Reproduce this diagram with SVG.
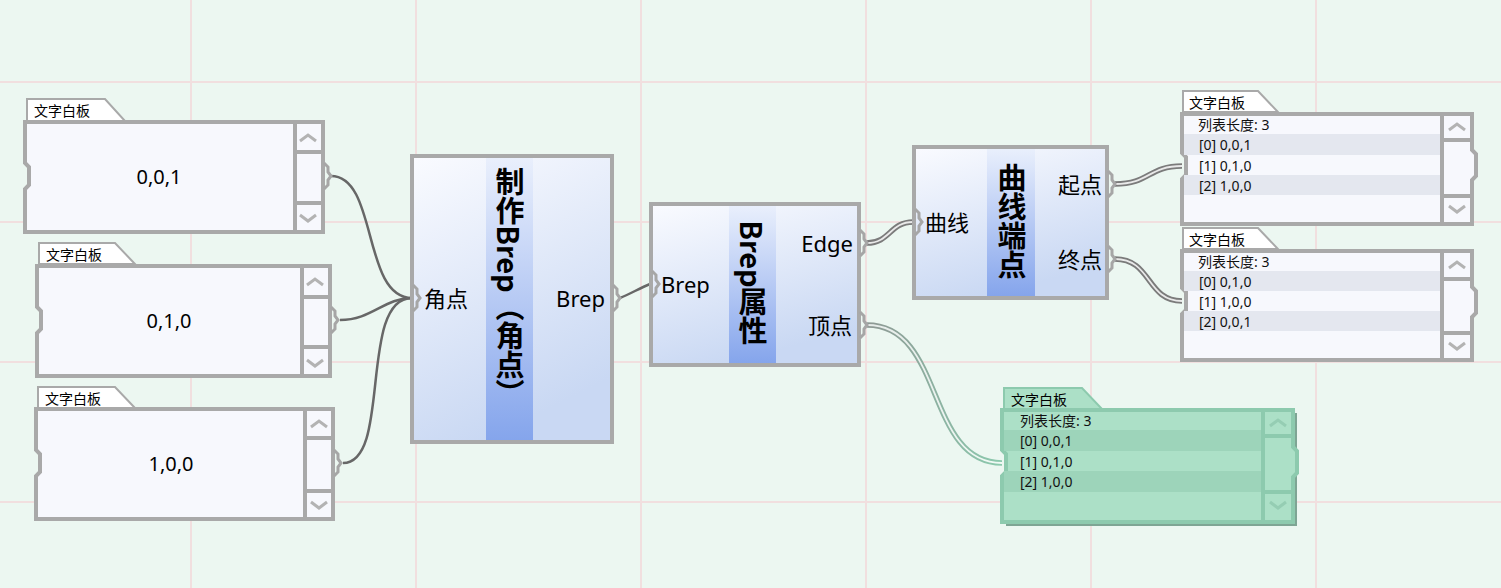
<svg xmlns="http://www.w3.org/2000/svg" xmlns:xlink="http://www.w3.org/1999/xlink" width="1501" height="588" viewBox="0 0 1501 588">
<defs>
  <linearGradient id="nodeG" x1="0" y1="0" x2="0.35" y2="1">
    <stop offset="0" stop-color="#fafbff"/>
    <stop offset="1" stop-color="#c9d8f3"/>
  </linearGradient>
  <linearGradient id="stripG" x1="0" y1="0" x2="0" y2="1">
    <stop offset="0" stop-color="#e9effc"/>
    <stop offset="1" stop-color="#85a5ec"/>
  </linearGradient>
  <linearGradient id="gwOut" gradientUnits="userSpaceOnUse" x1="867" y1="0" x2="1002" y2="0">
    <stop offset="0" stop-color="#8e9894"/>
    <stop offset="1" stop-color="#8ccaae"/>
  </linearGradient>
  <linearGradient id="gwIn" gradientUnits="userSpaceOnUse" x1="867" y1="0" x2="1002" y2="0">
    <stop offset="0" stop-color="#e6ebe9"/>
    <stop offset="1" stop-color="#f0faf5"/>
  </linearGradient>
  <path id="port" d="M0,-13 L4,-9 L4,-4 L7,0 L4,4 L4,9 L0,13"/>
</defs>
<style>
  .grid{stroke:#f1dfdf;stroke-width:2}
  .panel{fill:#f7f8fd;stroke:#a9a9a9;stroke-width:4}
  .tab{fill:#ffffff;stroke:#a9a9a9;stroke-width:2}
  .sc{fill:none;stroke:#a9a9a9;stroke-width:4}
  .chev{fill:none;stroke:#b3b3b3;stroke-width:3}
  .port{fill:none;stroke:#a6a6a6;stroke-width:3}
  .tabt{font-family:"Noto Sans","Noto Sans CJK SC",sans-serif;font-size:14px;fill:#000}
  .val{font-family:"Noto Sans","Noto Sans CJK SC",sans-serif;font-size:20px;fill:#000;text-anchor:middle;dominant-baseline:central}
  .row{font-family:"Noto Sans","Noto Sans CJK SC",sans-serif;font-size:14px;fill:#111;dominant-baseline:central}
  .node{fill:url(#nodeG);stroke:#a9a9a9;stroke-width:4}
  .strip{fill:url(#stripG)}
  .lbl{font-family:"Noto Sans","Noto Sans CJK SC",sans-serif;font-size:22px;fill:#000;dominant-baseline:central}
  .end{text-anchor:end}
  .title{font-family:"Noto Sans CJK SC","Noto Sans",sans-serif;font-size:29px;font-weight:bold;fill:#000;writing-mode:vertical-rl;text-anchor:middle}
  .w1{fill:none;stroke:#676767;stroke-width:2.5}
  .wo{fill:none;stroke:#7b7b7b;stroke-width:5.5}
  .wi{fill:none;stroke:#e9e9e9;stroke-width:1.8}
  .rowD{fill:#e4e7ef}
  .gpanel{fill:#ace0c7;stroke:#8dcaae;stroke-width:4}
  .gtab{fill:#ace0c7;stroke:#8dcaae;stroke-width:2}
  .grow{fill:#9dd4ba}
  .gsc{fill:none;stroke:#8dcaae;stroke-width:4}
  .gchev{fill:none;stroke:#95cdb3;stroke-width:3}
</style>

<rect x="0" y="0" width="1501" height="588" fill="#ecf7f1"/>
<g id="grid">
  <line class="grid" x1="191" y1="0" x2="191" y2="588"/>
  <line class="grid" x1="416" y1="0" x2="416" y2="588"/>
  <line class="grid" x1="641" y1="0" x2="641" y2="588"/>
  <line class="grid" x1="866" y1="0" x2="866" y2="588"/>
  <line class="grid" x1="1091" y1="0" x2="1091" y2="588"/>
  <line class="grid" x1="1316" y1="0" x2="1316" y2="588"/>
  <line class="grid" x1="0" y1="82" x2="1501" y2="82"/>
  <line class="grid" x1="0" y1="222" x2="1501" y2="222"/>
  <line class="grid" x1="0" y1="362" x2="1501" y2="362"/>
  <line class="grid" x1="0" y1="502" x2="1501" y2="502"/>
</g>

<g id="connectors">
  <path class="w1" d="M331,176 C378,176 362,298 412,298"/>
  <path class="w1" d="M340,320 C372,320 384,298 412,298"/>
  <path class="w1" d="M343,463 C392,463 358,298 412,298"/>
  <path class="w1" d="M620,298 C630,294 640,288 650,284"/>
  <path class="wo" d="M867,243 C890,243 890,222 913,222"/>
  <path class="wi" d="M867,243 C890,243 890,222 913,222"/>
  <path class="wo" d="M1115,184 C1150,184 1148,166 1182,166"/>
  <path class="wi" d="M1115,184 C1150,184 1148,166 1182,166"/>
  <path class="wo" d="M1115,259 C1152,259 1146,301 1182,301"/>
  <path class="wi" d="M1115,259 C1152,259 1146,301 1182,301"/>
  <path fill="none" stroke="url(#gwOut)" stroke-width="5.5" d="M867,325 C945,325 925,463 1002,463"/>
  <path fill="none" stroke="url(#gwIn)" stroke-width="1.8" d="M867,325 C945,325 925,463 1002,463"/>
</g>

<g id="panel1">
  <polygon class="tab" points="27,121 27,99 105,99 125,121"/>
  <text class="tabt" x="34" y="116">文字白板</text>
  <path class="panel" d="M25,122 H323 V232 H25 V189 L29,185 V167 L25,163 Z"/>
  <path class="sc" d="M295,122 V232 M295,152 H323 M295,203 H323"/>
  <polyline class="chev" points="300,141 308,135 316,141"/>
  <polyline class="chev" points="300,215 308,221 316,215"/>
  <use href="#port" class="port" x="324" y="176"/>
  <text class="val" x="159" y="176">0,0,1</text>
</g>

<g id="panel2">
  <polygon class="tab" points="39,264 39,243 115,243 135,264"/>
  <text class="tabt" x="46" y="260">文字白板</text>
  <path class="panel" d="M37,266 H330 V376 H37 V333 L41,329 V311 L37,307 Z"/>
  <path class="sc" d="M302,266 V376 M302,297 H330 M302,347 H330"/>
  <polyline class="chev" points="307,285 315,279 323,285"/>
  <polyline class="chev" points="307,360 315,366 323,360"/>
  <use href="#port" class="port" x="331" y="320"/>
  <text class="val" x="169" y="320">0,1,0</text>
</g>

<g id="panel3">
  <polygon class="tab" points="38,408 38,387 115,387 135,408"/>
  <text class="tabt" x="45" y="404">文字白板</text>
  <path class="panel" d="M36,409 H333 V519 H36 V476 L40,472 V454 L36,450 Z"/>
  <path class="sc" d="M305,409 V519 M305,438 H333 M305,491 H333"/>
  <polyline class="chev" points="311,427 319,421 327,427"/>
  <polyline class="chev" points="311,502 319,508 327,502"/>
  <use href="#port" class="port" x="334" y="463"/>
  <text class="val" x="171" y="463">1,0,0</text>
</g>

<g id="node-make-brep">
  <rect class="node" x="412" y="156" width="200" height="286"/>
  <rect class="strip" x="486" y="158" width="47" height="282"/>
  <use href="#port" class="port" x="413" y="298"/>
  <use href="#port" class="port" x="613" y="298"/>
  <text class="lbl" x="424" y="298">角点</text>
  <text class="lbl end" x="605" y="298">Brep</text>
  <text class="title" x="510" y="288">制作Brep（角点）</text>
</g>

<g id="node-brep-props">
  <rect class="node" x="651" y="204" width="208" height="161"/>
  <rect class="strip" x="729" y="206" width="47" height="157"/>
  <use href="#port" class="port" x="652" y="284"/>
  <use href="#port" class="port" x="860" y="243"/>
  <use href="#port" class="port" x="860" y="325"/>
  <text class="lbl" x="661" y="284">Brep</text>
  <text class="lbl end" x="853" y="243">Edge</text>
  <text class="lbl end" x="852" y="325">顶点</text>
  <text class="title" x="753" y="283">Brep属性</text>
</g>

<g id="node-curve-ends">
  <rect class="node" x="914" y="147" width="193" height="151"/>
  <rect class="strip" x="987" y="149" width="48" height="147"/>
  <use href="#port" class="port" x="915" y="222"/>
  <use href="#port" class="port" x="1108" y="184"/>
  <use href="#port" class="port" x="1108" y="259"/>
  <text class="lbl" x="925" y="222">曲线</text>
  <text class="lbl end" x="1102" y="184">起点</text>
  <text class="lbl end" x="1102" y="259">终点</text>
  <text class="title" x="1012" y="221">曲线端点</text>
</g>

<g id="panel-start">
  <polygon class="tab" points="1183,112 1183,91 1258,91 1278,112"/>
  <text class="tabt" x="1189" y="108">文字白板</text>
  <path class="panel" d="M1182,114 H1472 V150 L1476,154 V176 L1472,180 V224 H1182 V179 L1186,175 V157 L1182,153 Z"/>
  <rect class="rowD" x="1184" y="134" width="258" height="21"/>
  <rect class="rowD" x="1184" y="175" width="258" height="20"/>
  <path class="sc" d="M1442,114 V224 M1442,140 H1472 M1442,196 H1472"/>
  <polyline class="chev" points="1449,130 1457,124 1465,130"/>
  <polyline class="chev" points="1449,206 1457,212 1465,206"/>
  <text class="row" x="1198" y="124">列表长度: 3</text>
  <text class="row" x="1199" y="144">[0] 0,0,1</text>
  <text class="row" x="1199" y="165">[1] 0,1,0</text>
  <text class="row" x="1199" y="185">[2] 1,0,0</text>
</g>

<g id="panel-end">
  <polygon class="tab" points="1183,249 1183,228 1258,228 1278,249"/>
  <text class="tabt" x="1189" y="245">文字白板</text>
  <path class="panel" d="M1182,251 H1472 V287 L1476,291 V313 L1472,317 V360 H1182 V314 L1186,310 V292 L1182,288 Z"/>
  <rect class="rowD" x="1184" y="271" width="258" height="20"/>
  <rect class="rowD" x="1184" y="311" width="258" height="20"/>
  <path class="sc" d="M1442,251 V360 M1442,279 H1472 M1442,333 H1472"/>
  <polyline class="chev" points="1449,268 1457,262 1465,268"/>
  <polyline class="chev" points="1449,343 1457,349 1465,343"/>
  <text class="row" x="1198" y="261">列表长度: 3</text>
  <text class="row" x="1199" y="281">[0] 0,1,0</text>
  <text class="row" x="1199" y="301">[1] 1,0,0</text>
  <text class="row" x="1199" y="321">[2] 0,0,1</text>
</g>

<g id="panel-vertices">
  <rect x="1006" y="413" width="291" height="113" fill="#7ea594"/>
  <polygon class="gtab" points="1004,409 1004,388 1082,388 1102,409"/>
  <text class="tabt" x="1011" y="405">文字白板</text>
  <path class="gpanel" d="M1002,410 H1293 V447 L1297,451 V473 L1293,477 V522 H1002 V476 L1006,472 V454 L1002,450 Z"/>
  <rect class="grow" x="1004" y="430" width="259" height="21"/>
  <rect class="grow" x="1004" y="471" width="259" height="21"/>
  <path class="gsc" d="M1263,410 V522 M1263,436 H1293 M1263,492 H1293"/>
  <polyline class="gchev" points="1270,426 1278,420 1286,426"/>
  <polyline class="gchev" points="1270,502 1278,508 1286,502"/>
  <text class="row" x="1020" y="420">列表长度: 3</text>
  <text class="row" x="1020" y="440">[0] 0,0,1</text>
  <text class="row" x="1020" y="461">[1] 0,1,0</text>
  <text class="row" x="1020" y="481">[2] 1,0,0</text>
</g>
</svg>
